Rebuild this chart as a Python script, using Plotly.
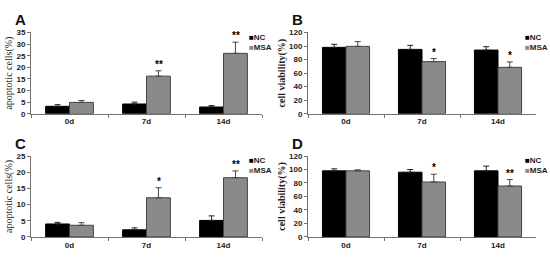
import plotly.graph_objects as go

categories = ["0d", "7d", "14d"]
series_names = ["NC", "MSA"]

# Panel A: apoptotic cells (%)
a_nc = [3.2, 4.2, 2.9]
a_nc_err = [0.7, 0.8, 0.6]
a_msa = [4.9, 16.2, 26.0]
a_msa_err = [0.8, 2.3, 4.8]
a_sig = ["", "**", "**"]

# Panel B: cell viability (%)
b_nc = [98, 95, 94]
b_nc_err = [4.5, 6, 5]
b_msa = [99.5, 77, 68.5]
b_msa_err = [7, 4.5, 8]
b_sig = ["", "*", "*"]

# Panel C: apoptotic cells (%)
c_nc = [4.0, 2.2, 5.1]
c_nc_err = [0.5, 0.6, 1.4]
c_msa = [3.6, 12.1, 18.3]
c_msa_err = [0.8, 3.1, 2.1]
c_sig = ["", "*", "**"]

# Panel D: cell viability (%)
d_nc = [98, 96, 98]
d_nc_err = [3, 4, 7]
d_msa = [98, 81.5, 75.5]
d_msa_err = [1.5, 11.5, 9.5]
d_sig = ["", "*", "**"]

panels = [
    ("A", a_nc, a_nc_err, a_msa, a_msa_err, a_sig, "apoptotic cells(%)", [0, 35], 5, False),
    ("B", b_nc, b_nc_err, b_msa, b_msa_err, b_sig, "cell viability(%)", [0, 120], 20, True),
    ("C", c_nc, c_nc_err, c_msa, c_msa_err, c_sig, "apoptotic cells(%)", [0, 25], 5, False),
    ("D", d_nc, d_nc_err, d_msa, d_msa_err, d_sig, "cell viability(%)", [0, 120], 20, True),
]

W, H = 550, 259
# pixel boxes of plot areas: (x0, x1, ytop, ybottom, legend left edge)
boxes = [
    (31, 262, 29.5, 113.7, 248),
    (308, 536, 29.5, 113.7, 524),
    (31, 262, 157.5, 241.3, 248),
    (308, 536, 157.5, 241.3, 524),
]

NC_COLOR = "#000000"
MSA_COLOR = "#8a8a8a"
AXIS_COLOR = "#707070"

fig = go.Figure()
annotations = []

for i, (label, nc, nce, msa, msae, sig, ytitle, yr, dt, boldtitle) in enumerate(panels):
    n = i + 1
    xa = "x" if n == 1 else f"x{n}"
    ya = "y" if n == 1 else f"y{n}"
    x0, x1, yt, yb, lx = boxes[i]
    fig.add_trace(go.Bar(
        x=categories, y=nc, name=series_names[0], xaxis=xa, yaxis=ya,
        offsetgroup="nc", showlegend=False,
        marker=dict(color=NC_COLOR, line=dict(color="#000000", width=1)),
        error_y=dict(type="data", array=nce, arrayminus=[0] * len(nce), symmetric=False,
                     color="#222222", thickness=1, width=3),
    ))
    fig.add_trace(go.Bar(
        x=categories, y=msa, name=series_names[1], xaxis=xa, yaxis=ya,
        offsetgroup="msa", showlegend=False,
        marker=dict(color=MSA_COLOR, line=dict(color="#444444", width=1)),
        error_y=dict(type="data", array=msae, arrayminus=[0] * len(msae), symmetric=False,
                     color="#444444", thickness=1, width=3),
    ))
    xkey = "xaxis" if n == 1 else f"xaxis{n}"
    ykey = "yaxis" if n == 1 else f"yaxis{n}"
    fig.update_layout({
        xkey: dict(
            domain=[x0 / W, x1 / W], anchor=ya, type="category",
            range=[-0.5, 2.5],
            showline=True, linecolor=AXIS_COLOR, linewidth=1,
            ticks="outside", tickson="boundaries", ticklen=3, tickcolor=AXIS_COLOR,
            tickfont=dict(family="Liberation Sans, Arial", size=8, color="#222222", weight="bold"),
            showgrid=False, zeroline=False, fixedrange=True,
        ),
        ykey: dict(
            domain=[1 - yb / H, 1 - yt / H], anchor=xa,
            range=yr, dtick=dt, tick0=0,
            showline=True, linecolor=AXIS_COLOR, linewidth=1,
            ticks="outside", ticklen=3, tickcolor=AXIS_COLOR,
            tickfont=dict(family="Liberation Sans, Arial", size=8, color="#222222", weight="bold"),
            showgrid=False, zeroline=False,
            title=dict(text=ytitle, standoff=1,
                       font=dict(family="Liberation Serif, Times New Roman", size=10,
                                 color="#222222", weight="bold" if boldtitle else "normal")),
        ),
    })
    # panel label
    annotations.append(dict(
        text=f"<b>{label}</b>", xref="paper", yref="paper",
        x=(x0 - 18) / W, y=1 - (yt - 24) / H, xanchor="left", yanchor="top",
        showarrow=False, font=dict(family="Liberation Sans, Arial", size=15, color="#111111"),
    ))
    # significance markers above MSA error bars
    for c, v, e, s in zip(categories, msa, msae, sig):
        if s:
            annotations.append(dict(
                text=s, x=c, y=v + e, xref=xa, yref=ya, xshift=12, yshift=-1,
                xanchor="center", yanchor="bottom", showarrow=False,
                font=dict(family="Liberation Sans, Arial", size=10, color="#000000", weight="bold"),
            ))
    # legend (manual, compact)
    legend_text = "<br>".join(
        f"<span style='color:{col}'>■</span><b>{nm}</b>"
        for nm, col in zip(series_names, [NC_COLOR, MSA_COLOR])
    )
    annotations.append(dict(
        text=legend_text, xref="paper", yref="paper",
        x=lx / W, y=1 - (yt - 1) / H, align="left",
        xanchor="left", yanchor="top", showarrow=False, borderpad=0,
        font=dict(family="Liberation Sans, Arial", size=8, color="#222222"),
    ))

fig.update_layout(
    width=W, height=H,
    margin=dict(l=0, r=0, t=0, b=0),
    paper_bgcolor="white", plot_bgcolor="white",
    barmode="group", bargap=0.38, bargroupgap=0,
    showlegend=False,
    annotations=annotations,
)

fig.write_html(
    "out.html",
    config={"displayModeBar": False},
    post_script="document.body.style.margin='0';document.body.style.padding='0';"
                "document.documentElement.style.overflow='hidden';",
)
